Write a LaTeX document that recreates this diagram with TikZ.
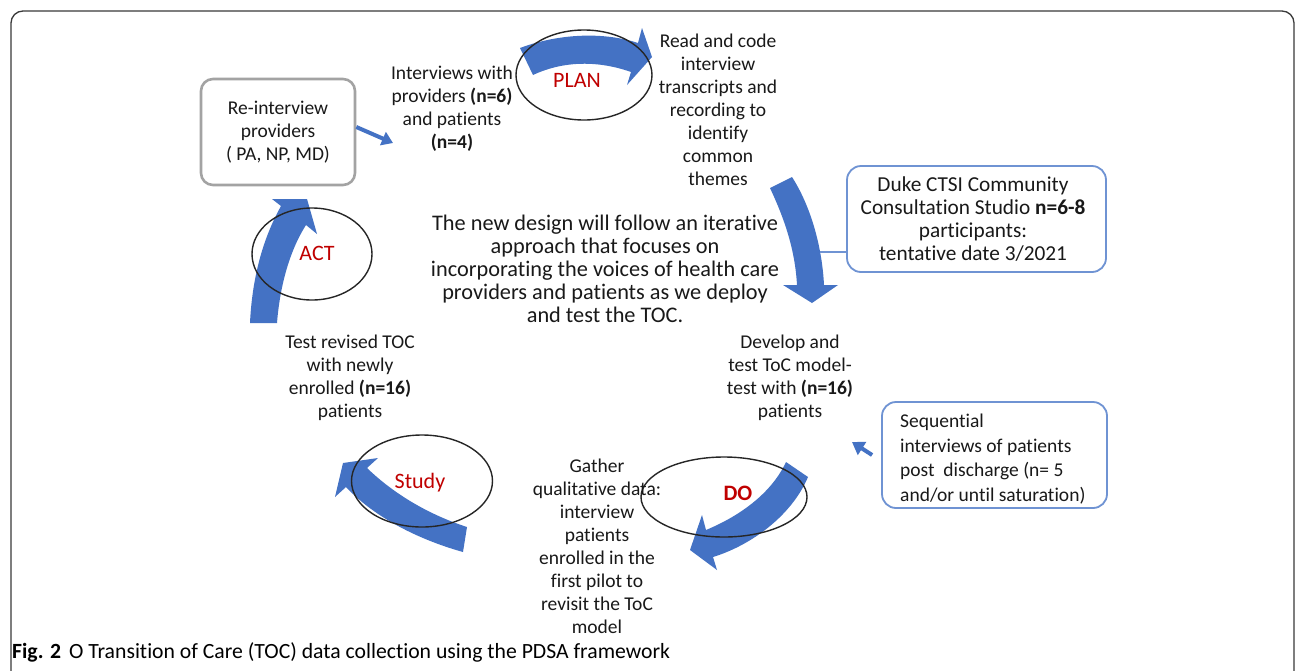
\documentclass[tikz,border=0pt]{standalone}
\usepackage{fontspec}
\setmainfont{Carlito}[Ligatures={NoCommon}]
\usetikzlibrary{arrows.meta,shapes.geometric}
\definecolor{arrowblue}{HTML}{4472C4}
\definecolor{boxblue}{HTML}{6F93D3}
\definecolor{boxgray}{HTML}{A3A3A3}
\definecolor{labelred}{HTML}{C00000}
\definecolor{framegray}{HTML}{3A3A3A}
\begin{document}
\begin{tikzpicture}[x=1pt,y=-1pt,
  body/.style={font=\fontsize{19.5}{23}\selectfont, align=center, inner sep=0pt, text=black!90},
  bigbody/.style={body, font=\fontsize{22.3}{23}\selectfont},
  midbody/.style={body, font=\fontsize{21.3}{23}\selectfont},
  phase/.style={font=\fontsize{22}{26}\selectfont, text=labelred, inner sep=0pt},
  loopring/.style={ellipse, draw=black!85, line width=1.4pt, inner sep=0pt},
  graybox/.style={draw=boxgray, line width=2.6pt, rounded corners=12pt},
  bluebox/.style={draw=boxblue, line width=1.8pt, rounded corners=14pt},
  bigarrow/.style={fill=arrowblue, draw=none},
  smallarrow/.style={draw=arrowblue, line width=4pt, -{Triangle[length=11pt,width=14pt]}},
  link/.style={draw=boxblue, line width=1.6pt}
]
\useasboundingbox (0,0) rectangle (1296,670);
\fill[white] (0,0) rectangle (1296,670);

% outer frame
\draw[framegray, line width=1.3pt, rounded corners=12pt] (11,720) -- (11,11) -- (1294,11) -- (1294,720);

% curved cycle arrows
% PLAN
\path[bigarrow] (533,75) -- (520,48) .. controls (560,33) and (605,32) .. (638,43)
  -- (642,28) -- (652,57) -- (627,85) -- (631,72)
  .. controls (600,61) and (565,60) .. (533,75) -- cycle;
% towards DO
\path[bigarrow] (770,188) .. controls (785,220) and (795,250) .. (797,285)
  -- (783,285) -- (812,303) -- (838,285) -- (824,285)
  .. controls (822,245) and (810,205) .. (792,177) -- cycle;
% DO
\path[bigarrow] (786,462) .. controls (772,492) and (742,515) .. (706,530)
  -- (702,515) -- (690,550) -- (717,570) -- (713,557)
  .. controls (752,545) and (792,515) .. (808,477) -- cycle;
% Study
\path[bigarrow] (467,527) .. controls (430,515) and (395,495) .. (367,468)
  -- (378,458) -- (343,463) -- (335,497) -- (346,487)
  .. controls (375,518) and (420,540) .. (463,552) -- cycle;
% ACT
\path[bigarrow] (250,323) .. controls (252,280) and (262,240) .. (281,206)
  -- (272,199) -- (307,199) -- (317,234) -- (306,225)
  .. controls (290,250) and (280,285) .. (277,323) -- cycle;

% phase rings
\node[loopring, minimum width=136pt, minimum height=90pt] (planring) at (584,75) {};
\node[loopring, minimum width=166pt, minimum height=80pt] (doring) at (724,497) {};
\node[loopring, minimum width=141pt, minimum height=92pt] (studyring) at (422,481) {};
\node[loopring, minimum width=120pt, minimum height=92pt] (actring) at (312,254) {};

% phase labels
\node[phase] (plan) at (577,80) {PLAN};
\node[phase, font=\fontsize{22}{26}\selectfont\bfseries] (do) at (738,493) {DO};
\node[phase] (study) at (420,483) {Study};
\node[phase] (act) at (317,253) {ACT};

% boxes
\node[graybox, minimum width=154pt, minimum height=106pt] (reint) at (278,132) {};
\node[body] (reinttext) at (278,132) {Re-interview\\providers\\( PA, NP, MD)};

\node[bluebox, minimum width=259pt, minimum height=106pt] (duke) at (976.5,219) {};
\node[midbody] (duketext) at (973,219) {Duke CTSI Community\\Consultation Studio \textbf{n=6-8}\\participants:\\tentative date 3/2021};

\node[bluebox, minimum width=225pt, minimum height=106pt] (seq) at (994.5,455) {};
\node[body, align=left, anchor=west, font=\fontsize{19.5}{24.5}\selectfont] (seqtext) at (900,459) {Sequential\\interviews of patients\\post\ \ discharge (n= 5\\and/or until saturation)};

% step texts
\node[body] (interviews) at (452,109) {Interviews with\\providers \textbf{(n=6)}\\and patients\\\textbf{(n=4)}};
\node[body] (readcode) at (718,110) {Read and code\\interview\\transcripts and\\recording to\\identify\\common\\themes};
\node[bigbody] (design) at (605,269) {The new design will follow an iterative\\approach that focuses on\\incorporating the voices of health care\\providers and patients as we deploy\\and test the TOC.};
\node[body] (develop) at (790,378) {Develop and\\test ToC model-\\test with \textbf{(n=16)}\\patients};
\node[body] (gather) at (597,546) {Gather\\qualitative data:\\interview\\patients\\enrolled in the\\first pilot to\\revisit the ToC\\model};
\node[body] (testrev) at (350,378) {Test revised TOC\\with newly\\enrolled \textbf{(n=16)}\\patients};

% connectors
\coordinate (intin) at (393,143);
\draw[smallarrow] ([yshift=5pt]reint.east) -- (intin);
\coordinate (seqtip) at (852,442);
\draw[smallarrow, -{Triangle[length=12pt,width=15pt]}] ([xshift=-9pt]seq.west) -- (seqtip);
\coordinate (dukeend) at (820,252);
\draw[link] ([yshift=-33pt]duke.west) -- (dukeend);

% caption
\node[anchor=base west, inner sep=0pt, font=\fontsize{21.7}{26}\selectfont] (caption) at (12,658)
  {\textbf{Fig. 2}\hspace{8pt}O Transition of Care (TOC) data collection using the PDSA framework};
\end{tikzpicture}
\end{document}
